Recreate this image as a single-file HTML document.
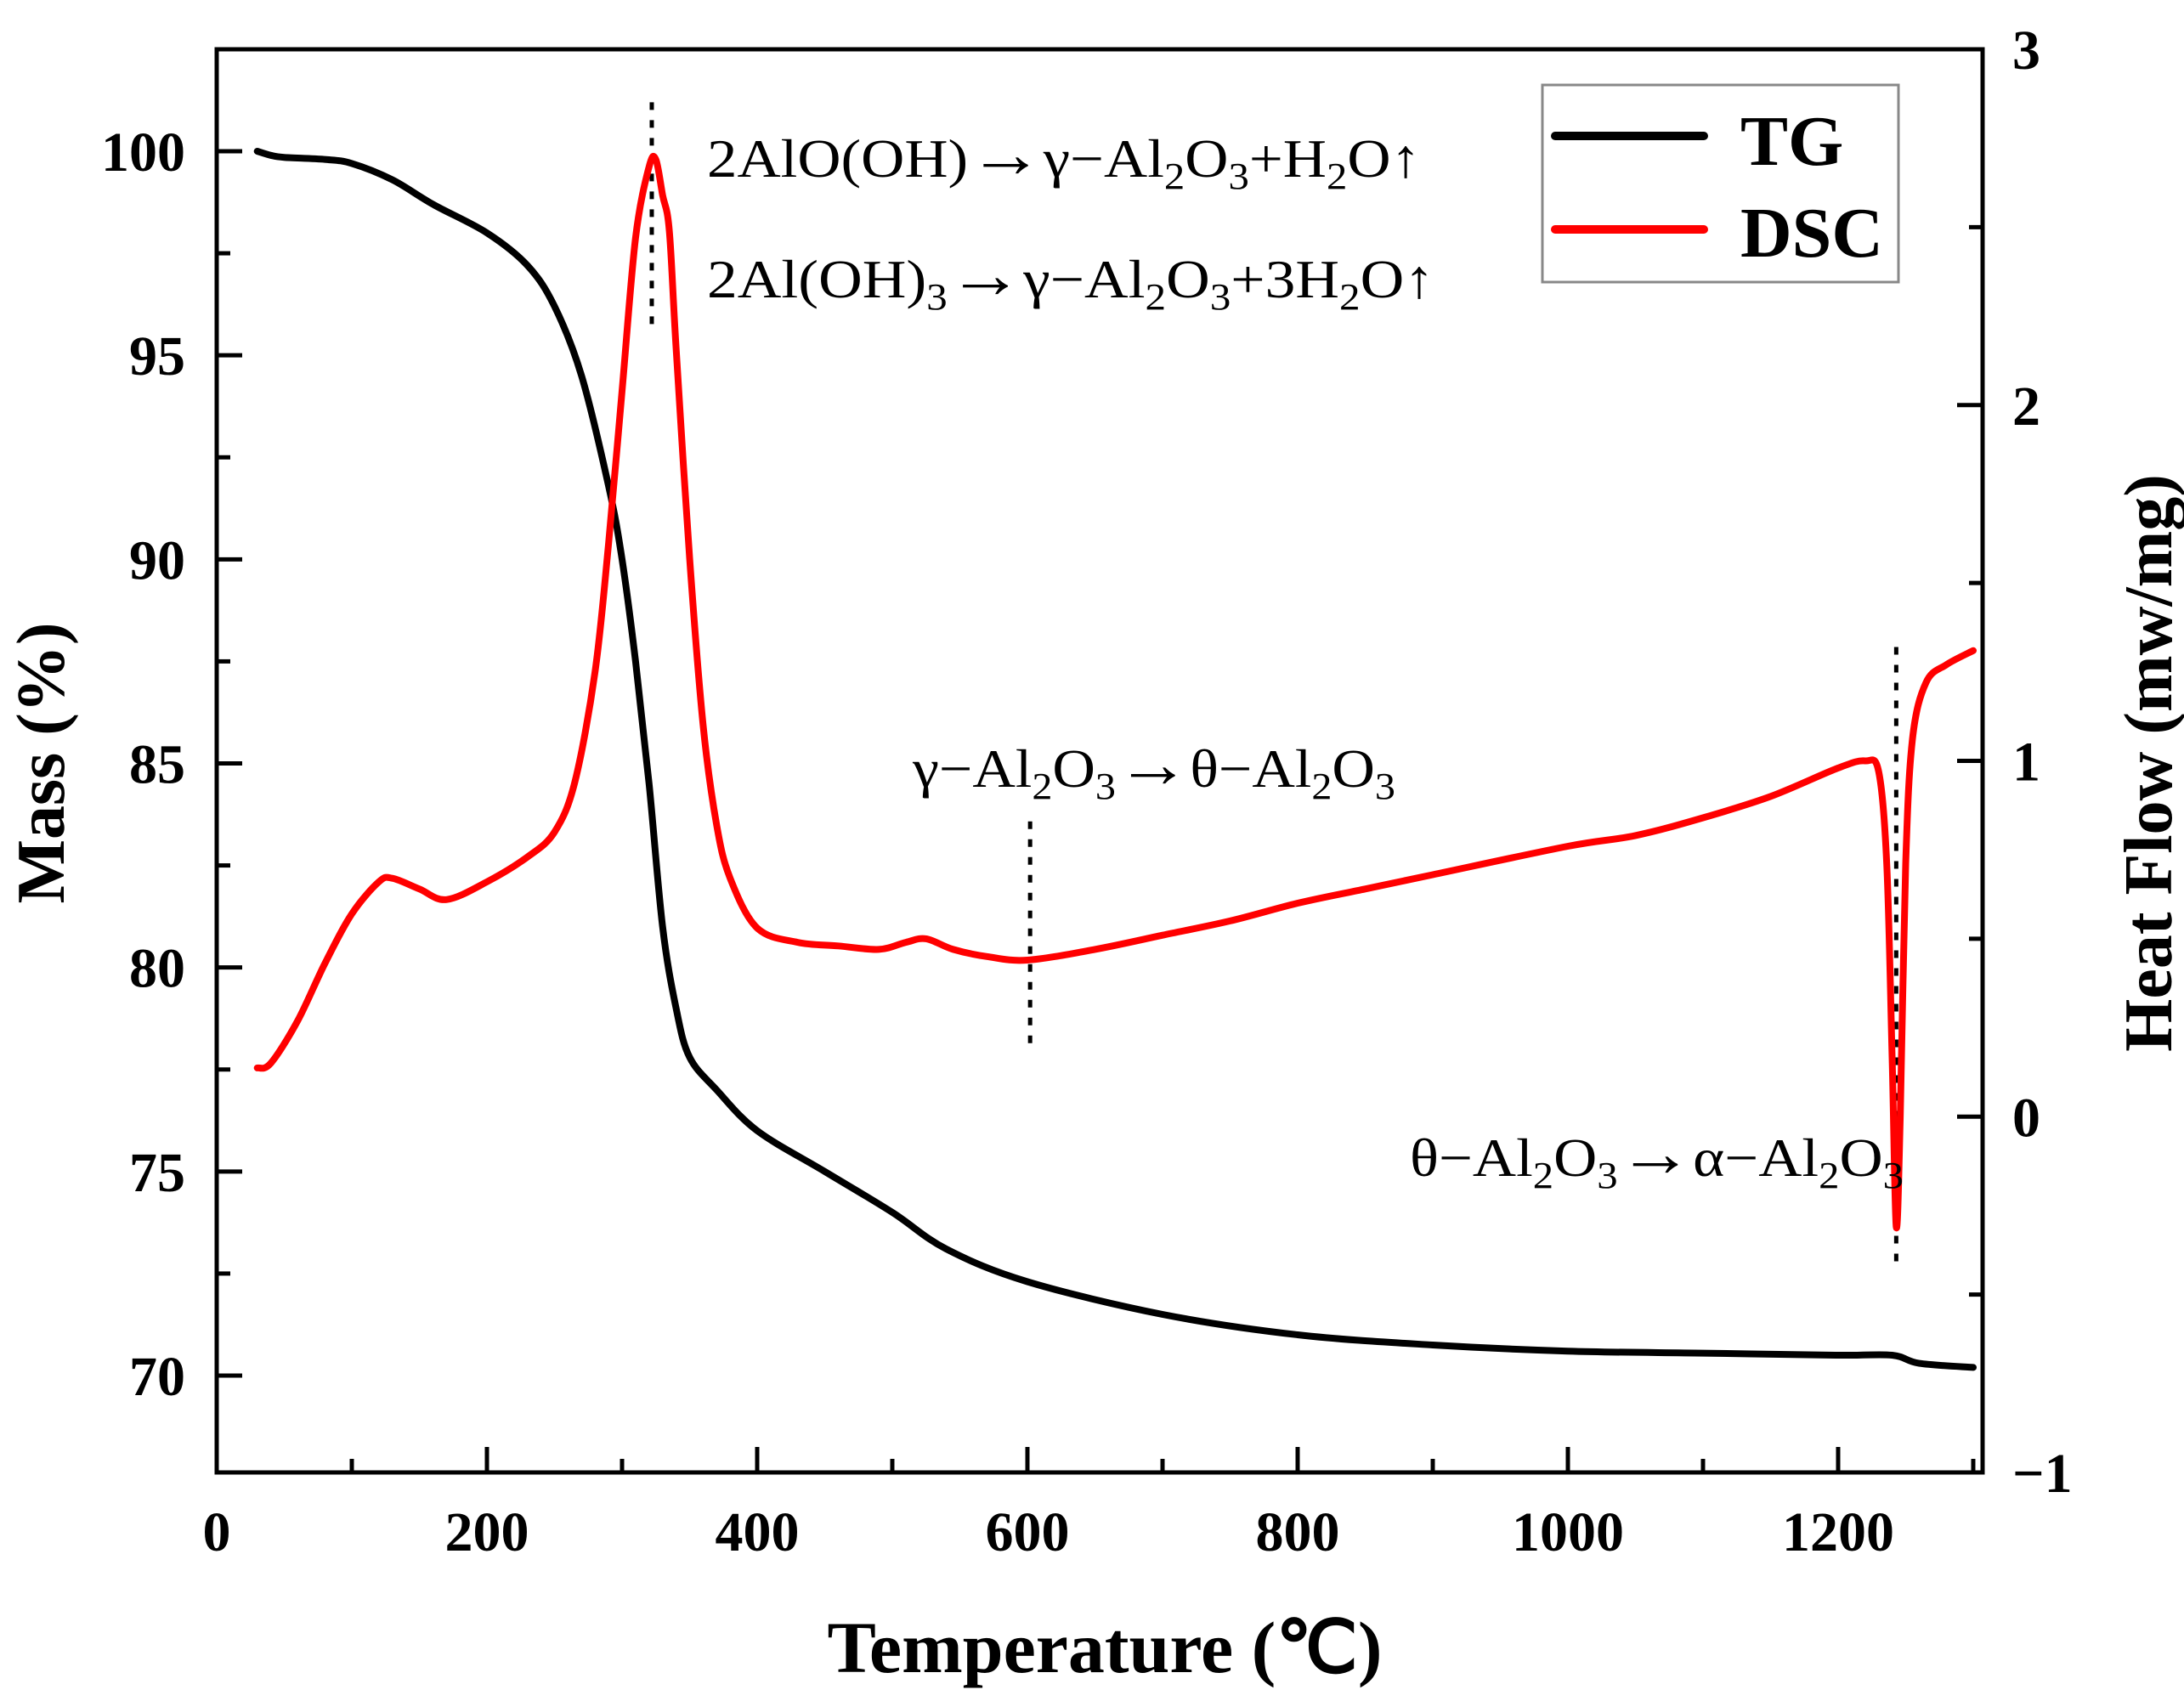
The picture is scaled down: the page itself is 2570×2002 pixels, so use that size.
<!DOCTYPE html>
<html><head><meta charset="utf-8"><style>
html,body{margin:0;padding:0;background:#fff;}
svg{display:block;font-family:"Liberation Serif",serif;}
</style></head><body>
<svg id="chart" width="2570" height="2002" viewBox="0 0 2570 2002"></svg>
<script>
const tgTemps=[30,40,50,80,100,130,160,200,230,250,270,290,300,310,320,330,340,350,370,400,450,500,540,600,700,800,900,1000,1100,1200,1240,1260,1300];
const tgMass=[100.0,99.9,99.85,99.8,99.7,99.3,98.7,98.0,97.2,96.2,94.5,91.8,90.0,87.5,84.5,81.0,79.0,77.8,77.0,76.0,75.0,74.0,73.1,72.3,71.5,71.0,70.75,70.6,70.55,70.5,70.5,70.3,70.2];
const dscTemps=[30,40,60,80,100,120,130,150,170,200,230,250,265,280,290,300,310,320,325,330,335,340,350,360,370,380,400,430,460,490,510,525,545,570,600,650,700,750,800,850,900,1000,1050,1100,1150,1200,1220,1230,1236,1240,1243,1246,1250,1255,1265,1280,1300];
const dscHeat=[0.137,0.15,0.27,0.43,0.57,0.66,0.67,0.64,0.61,0.66,0.73,0.80,0.94,1.25,1.61,2.04,2.47,2.67,2.69,2.59,2.49,2.16,1.57,1.10,0.82,0.67,0.53,0.49,0.48,0.47,0.49,0.50,0.47,0.45,0.44,0.47,0.51,0.55,0.60,0.64,0.68,0.76,0.79,0.84,0.90,0.98,1.0,0.97,0.71,0.16,-0.31,0.0,0.71,1.06,1.22,1.27,1.31];
const xTicks=[0,200,400,600,800,1000,1200];
const massTicks=[70,75,80,85,90,95,100];
const heatTicks=[-1,0,1,2,3];
const markerTemps=[322,602,1243];

const L=255,R=2333,T=58,B=1733;
const xs=t=>L+t*1.59;
const ym=m=>178+(100-m)*(1619-178)/30;
const yh=h=>T+(3-h)*(B-T)/4;
const NS="http://www.w3.org/2000/svg";
const svg=document.getElementById('chart');
function mk(tag,attrs,parent){const e=document.createElementNS(NS,tag);for(const k in attrs)e.setAttribute(k,attrs[k]);(parent||svg).appendChild(e);return e;}

// ticks
for(let t=0;t<=1300;t+=100){const maj=t%200===0;const e=mk('line',{x1:xs(t),x2:xs(t),y1:B,y2:B-(maj?30:16),stroke:'#000','stroke-width':5});

}
xTicks.forEach(t=>{const e=mk('text',{x:xs(t),y:1825,'text-anchor':'middle','font-size':66,'font-weight':'bold'});e.textContent=t;

});
for(let m=67.5;m<=102.5;m+=2.5){if(ym(m)<T||ym(m)>B)continue;const maj=m%5===0;const e=mk('line',{x1:L,x2:L+(maj?30:16),y1:ym(m),y2:ym(m),stroke:'#000','stroke-width':5});

}
massTicks.forEach(m=>{const e=mk('text',{x:218,y:ym(m)+23,'text-anchor':'end','font-size':66,'font-weight':'bold'});e.textContent=m;

});
for(let h=-1;h<=3;h+=0.5){const maj=h%1===0;const e=mk('line',{x1:R,x2:R-(maj?30:16),y1:yh(h),y2:yh(h),stroke:'#000','stroke-width':5});

}
heatTicks.forEach(h=>{const e=mk('text',{x:2368,y:yh(h)+23,'text-anchor':'start','font-size':66,'font-weight':'bold'});e.textContent=h<0?'\u2212'+Math.abs(h):h;

});

// axes frame
const fr=mk('rect',{x:L,y:T,width:R-L,height:B-T,fill:'none',stroke:'#000','stroke-width':5});



// marker dotted lines
const mkRanges=[[ym(101.2),ym(95.6)],[yh(0.83),yh(0.18)],[yh(1.32),yh(-0.43)]];
markerTemps.forEach((t,i)=>{const e=mk('line',{x1:xs(t),x2:xs(t),y1:mkRanges[i][0],y2:mkRanges[i][1],stroke:'#000','stroke-width':5,'stroke-dasharray':'9 12'});

});

// series (Catmull-Rom smoothing)
function path(xsArr,ysArr,fy){
  const p=xsArr.map((t,i)=>[xs(t),fy(ysArr[i])]);
  let d='M'+p[0][0].toFixed(1)+','+p[0][1].toFixed(1);
  for(let i=0;i<p.length-1;i++){
    const p0=p[Math.max(0,i-1)],p1=p[i],p2=p[i+1],p3=p[Math.min(p.length-1,i+2)];
    const c1=[p1[0]+(p2[0]-p0[0])/6,p1[1]+(p2[1]-p0[1])/6];
    const c2=[p2[0]-(p3[0]-p1[0])/6,p2[1]-(p3[1]-p1[1])/6];
    d+=' C'+c1.map(v=>v.toFixed(1))+' '+c2.map(v=>v.toFixed(1))+' '+p2.map(v=>v.toFixed(1));
  }
  return d;
}
const tg=mk('path',{d:path(tgTemps,tgMass,ym),fill:'none',stroke:'#000','stroke-width':8,'stroke-linejoin':'round','stroke-linecap':'round'});


const dsc=mk('path',{d:path(dscTemps,dscHeat,yh),fill:'none',stroke:'#ff0000','stroke-width':8,'stroke-linejoin':'round','stroke-linecap':'round'});



// annotations
function ann(x,y,w,html,name){const e=mk('text',{x:x,y:y,'font-size':64,textLength:w,lengthAdjust:'spacingAndGlyphs'});e.innerHTML=html;

}
const sub=s=>'<tspan font-size="44" dy="14">'+s+'</tspan><tspan dy="-14">';
const AR='<tspan font-size="80">→</tspan>';
ann(832,208,840,'2AlO(OH)'+AR+'γ−Al'+sub('2')+'O</tspan>'+sub('3')+'+H</tspan>'+sub('2')+'O↑</tspan>','annotation-boehmite');
ann(832,350,856,'2Al(OH)'+sub('3')+AR+'γ−Al</tspan>'+sub('2')+'O</tspan>'+sub('3')+'+3H</tspan>'+sub('2')+'O↑</tspan>','annotation-gibbsite');
ann(1074,926,568,'γ−Al'+sub('2')+'O</tspan>'+sub('3')+AR+'θ−Al</tspan>'+sub('2')+'O</tspan>'+sub('3')+'</tspan>','annotation-gamma-theta');
ann(1659,1384,581,'θ−Al'+sub('2')+'O</tspan>'+sub('3')+AR+'α−Al</tspan>'+sub('2')+'O</tspan>'+sub('3')+'</tspan>','annotation-theta-alpha');

// axis titles
let e=mk('text',{x:1300,y:1968,'text-anchor':'middle','font-size':86,'font-weight':'bold'});e.textContent='Temperature (℃)';


e=mk('text',{x:0,y:0,'text-anchor':'middle','font-size':80,'font-weight':'bold',transform:'translate(75,898) rotate(-90)'});e.textContent='Mass (%)';


e=mk('text',{x:0,y:0,'text-anchor':'middle','font-size':80,'font-weight':'bold',transform:'translate(2555,898) rotate(-90)'});e.textContent='Heat Flow (mw/mg)';



// legend
const lg=mk('g',{});


mk('rect',{x:1815,y:100,width:419,height:232,fill:'#fff',stroke:'#888','stroke-width':3},lg);
e=mk('line',{x1:1830,x2:2005,y1:160,y2:160,stroke:'#000','stroke-width':10,'stroke-linecap':'round'},lg);


e=mk('line',{x1:1830,x2:2005,y1:270,y2:270,stroke:'#ff0000','stroke-width':10,'stroke-linecap':'round'},lg);


e=mk('text',{x:2048,y:194,'font-size':84,'font-weight':'bold'},lg);e.textContent='TG';


e=mk('text',{x:2048,y:302,'font-size':84,'font-weight':'bold'},lg);e.textContent='DSC';


</script>
</body></html>
